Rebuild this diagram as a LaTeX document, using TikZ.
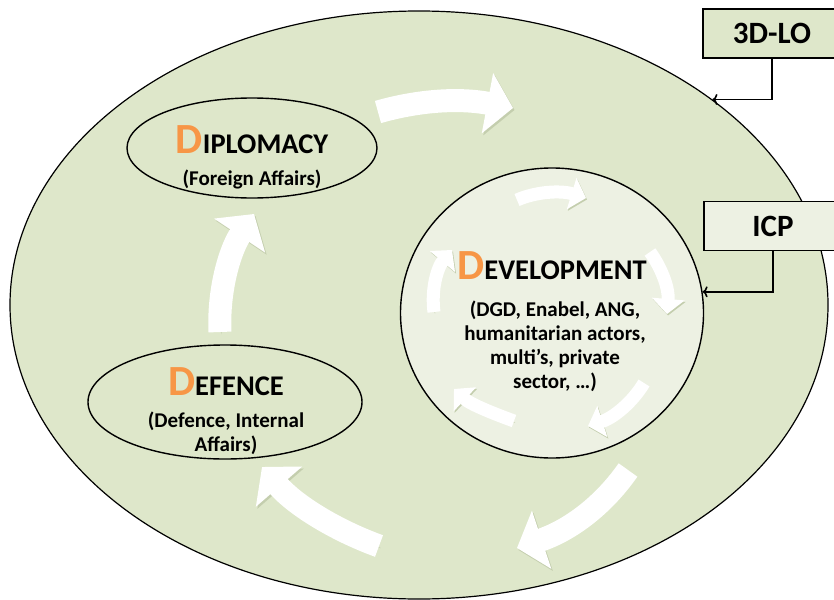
\documentclass[tikz,border=0pt]{standalone}
\usepackage{fontspec}
\setmainfont{Carlito}
\usetikzlibrary{shapes.geometric, arrows.meta, positioning}

\definecolor{leafgreen}{RGB}{222,231,202}
\definecolor{palegreen}{RGB}{237,241,227}
\definecolor{dorange}{RGB}{247,150,70}
\definecolor{flowshade}{RGB}{196,206,174}

% big orange initial of each D
\newcommand{\bigD}{{\fontsize{43}{43}\selectfont\color{dorange}D}}

\begin{document}
\begin{tikzpicture}[x=1pt, y=-1pt,
        ring/.style={draw, ellipse, line width=1.4pt, inner sep=0pt},
        title/.style={font=\bfseries\fontsize{28.5}{28.5}\selectfont, anchor=base},
        subtitle/.style={font=\bfseries\fontsize{21}{24}\selectfont, align=center, anchor=base},
        tag/.style={draw, line width=1.3pt, font=\bfseries\fontsize{31}{31}\selectfont, minimum width=138pt, minimum height=49pt},
        arrow/.style={-{To[length=5pt,width=11pt]}, line width=1.6pt},
        bigflow/.style={white, line width=23pt, -{Triangle[width=60pt,length=26pt]},
            preaction={draw=flowshade, transform canvas={shift={(1.5pt,-2pt)}}}},
        smallflow/.style={white, line width=13pt, -{Triangle[width=32pt,length=15pt]},
            preaction={draw=flowshade, transform canvas={shift={(1pt,-1.5pt)}}}}
    ]
    \fill[white] (0,0) rectangle (834,599);
    \useasboundingbox (0,0) rectangle (834,599);

    % Outer field
    \node[ring, fill=leafgreen, line width=1.2pt, minimum width=818pt, minimum height=588pt] (field) at (419,305) {};

    % Cycle between the three Ds
    \draw[bigflow] (378,112) .. controls (420,100) and (460,98) .. (513,108);
    \draw[bigflow] (628,470) .. controls (600,510) and (565,532) .. (517,548);
    \draw[bigflow] (379,546) .. controls (335,530) and (295,505) .. (262,467);
    \draw[bigflow] (220,332) .. controls (218,290) and (230,250) .. (254,214);

    % Rings
    \node[ring, minimum width=250pt, minimum height=100pt] (diplomacy) at (252,148) {};
    \node[ring, minimum width=274pt, minimum height=114pt] (defence) at (225,402) {};
    \node[ring, fill=palegreen, minimum width=303pt, minimum height=290pt] (development) at (552,313) {};

    % Inner cycle
    \draw[smallflow] (517,200) .. controls (535,192) and (560,190) .. (586,198);
    \draw[smallflow] (650,252) .. controls (663,270) and (669,290) .. (667,314);
    \draw[smallflow] (644,383) .. controls (632,403) and (613,418) .. (588,426);
    \draw[smallflow] (514,421) .. controls (492,413) and (470,404) .. (454,389);
    \draw[smallflow] (434,312) .. controls (431,290) and (437,268) .. (452,250);

    % Labels (a multi-line node sits on the baseline of its last line)
    \node[title] (dip-title) at (252,153) {\bigD IPLOMACY};
    \node[subtitle] (dip-sub) at (252,185) {(Foreign Affairs)};
    \node[title] (def-title) at (226,395) {\bigD EFENCE};
    \node[subtitle] (def-sub) at (226,451) {(Defence, Internal\\Affairs)};
    \node[title] (dev-title) at (552,279) {\bigD EVELOPMENT};
    \node[subtitle] (dev-sub) at (555,388) {(DGD, Enabel, ANG,\\humanitarian actors,\\multi’s, private\\sector, …)};

    % Side boxes
    \node[tag, fill=leafgreen] (lo) at (772,33.5) {3D-LO};
    \node[tag, fill=palegreen] (icp) at (773,226) {ICP};

    \draw[arrow] (lo.south) |- (field.35);
    \draw[arrow] (icp.south) |- (development.8);
\end{tikzpicture}
\end{document}
